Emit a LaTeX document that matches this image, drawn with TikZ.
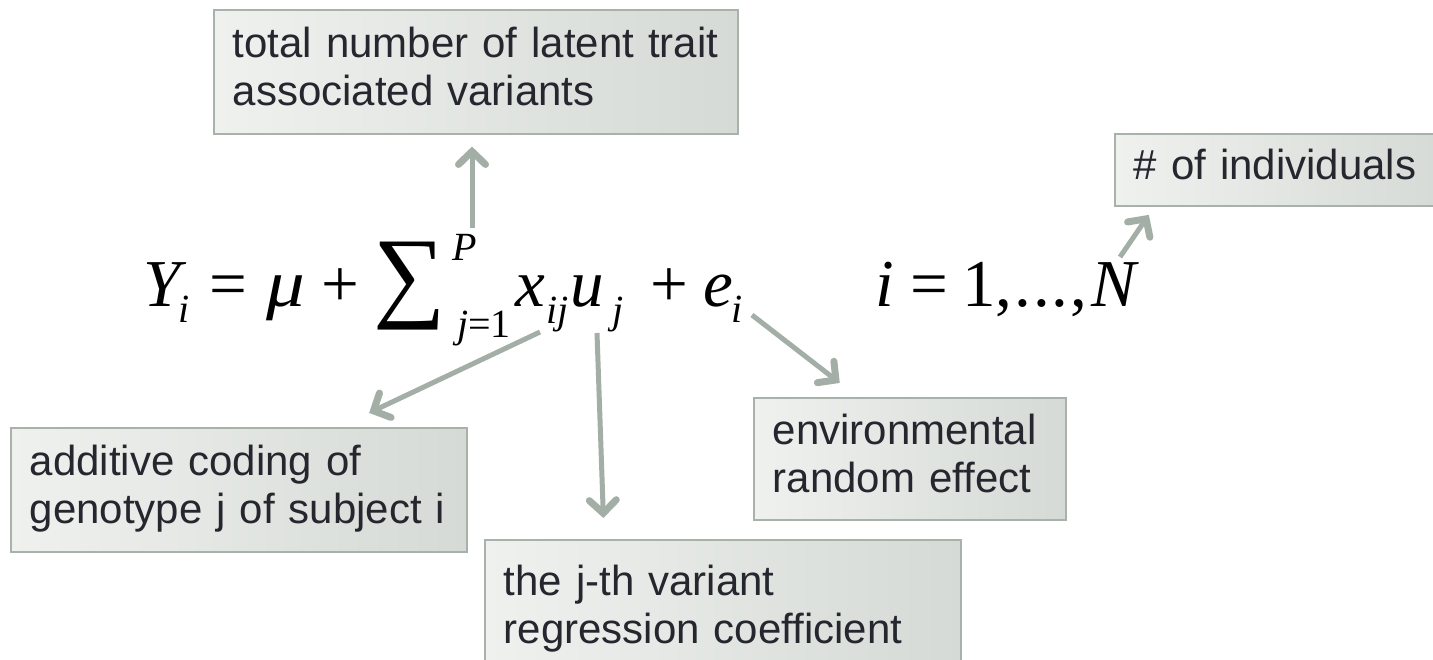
\documentclass[tikz,border=0pt]{standalone}
\usepackage{fontspec}
\setmainfont{Liberation Sans}
\newfontfamily\eqfont{Liberation Serif}
\usetikzlibrary{arrows.meta}

\definecolor{arrowgray}{RGB}{163,174,167}
\definecolor{boxline}{RGB}{168,178,171}
\definecolor{boxlight}{RGB}{239,241,239}
\definecolor{boxdark}{RGB}{213,218,214}
\definecolor{boxtext}{RGB}{38,38,46}

\newcommand{\lines}[1]{\begin{tabular}{@{}l@{}}#1\end{tabular}}

\tikzset{
  note/.style={draw=boxline, line width=1.6pt, left color=boxlight, right color=boxdark,
    anchor=north west, inner xsep=19pt, inner ysep=0pt, align=left, text=boxtext,
    font=\fontsize{42}{48}\selectfont},
  big/.style={anchor=base west, inner sep=0pt, font=\eqfont\fontsize{67}{67}\selectfont},
  sml/.style={anchor=base west, inner sep=0pt, font=\eqfont\fontsize{40}{40}\selectfont},
  arr/.style={arrowgray, line width=5pt,
    -{Straight Barb[length=13pt,width=27pt,line width=7pt,line cap=round]}}
}

\begin{document}
\begin{tikzpicture}[x=1pt,y=-1pt]
\useasboundingbox (0,0) rectangle (1433,659);

% labels
\node[note, text width=486pt, minimum height=124pt] (tot) at (213,9)
  {\lines{total number of latent trait\\associated variants}};
\node[note, text width=298pt, minimum height=72pt] (ind) at (1114,133)
  {\lines{\# of individuals}};
\node[note, text width=418pt, minimum height=124pt] (add) at (10,427)
  {\lines{additive coding of\\genotype j of subject i}};
\node[note, text width=274pt, minimum height=122pt] (env) at (753,397)
  {\lines{environmental\\random effect}};
\node[note, text width=438pt, minimum height=141pt] (reg) at (484,539)
  {\lines{the j-th variant\\regression coefficient}};

% equation
\node[big] (Y) at (143,306) {\itshape Y};
\node[sml] (Ysub) at (178,322) {\itshape i};
\node[big] (eq1) at (209,306) {=};
\node[big] (mu) at (266,306) {\itshape\scalebox{1.15}[1]{μ}};
\node[big] (plus1) at (321,306) {+};
\node[anchor=north west, inner sep=0pt, font=\eqfont] (sum) at (373,242)
  {\makebox[70pt][l]{\resizebox*{!}{88pt}{∑}}};
\node[sml] (P) at (452,260) {\itshape P};
\node[sml] (jlow) at (457,337) {{\itshape j}=1};
\node[big] (x) at (515,306) {\itshape x};
\node[sml] (xsub) at (546,323) {\itshape ij};
\node[big] (u) at (570,306) {\itshape u};
\node[sml] (usub) at (612,323) {\itshape j};
\node[big] (plus2) at (650,306) {+};
\node[big] (e) at (703,306) {\itshape e};
\node[sml] (esub) at (731,322) {\itshape i};
\node[big] (i) at (875,306) {\itshape i};
\node[big] (eq2) at (910,306) {=};
\node[big] (range) at (962,306) {1,\kern2pt.\kern2pt.\kern2pt.\kern2pt,};
\node[big] (N) at (1091,306) {\itshape N};

\coordinate (tP) at (472,228);
\coordinate (tX) at (540,332);
\coordinate (tU) at (597,333);
\coordinate (tE) at (752,315);
\coordinate (tN) at (1120,257);

\draw[arr, shorten >=12pt] (tP) -- (tP |- tot.south);
\draw[arr, shorten >=33pt] (tX) -- (add.32);
\draw[arr, shorten >=21pt] (tU) -- (reg.149);
\draw[arr, shorten >=23pt] (tE) -- (env.130);
\draw[arr, shorten >=10pt] (tN) -- (ind.196);
\end{tikzpicture}
\end{document}
